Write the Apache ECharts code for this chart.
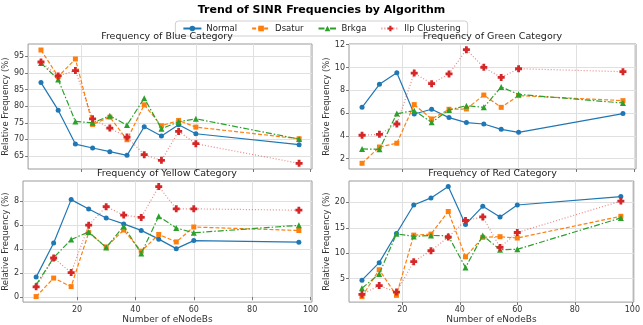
<!DOCTYPE html>
<html>
<head>
<meta charset="utf-8">
<script src="https://cdn.jsdelivr.net/npm/echarts@6/dist/echarts.min.js"></script>
<style>
  html, body { margin: 0; padding: 0; background: #fff; }
  #chart { width: 643px; height: 325px; }
</style>
</head>
<body>
<div id="chart"></div>
<script>
var eNodeBs = [6, 12, 18, 24, 30, 36, 42, 48, 54, 60, 96];
var algorithms = ['Normal', 'Dsatur', 'Brkga', 'Ilp Clustering'];

// Blue
var blueNormal = [87.1, 78.8, 68.6, 67.4, 66.3, 65.2, 73.8, 71.0, 74.4, 71.7, 68.4];
var blueDsatur = [96.9, 88.9, 94.2, 74.5, 76.7, 69.9, 80.4, 74.1, 75.7, 73.7, 70.2];
var blueBrkga = [93.0, 88.0, 75.4, 75.0, 77.1, 74.3, 82.4, 73.2, 75.3, 76.2, 70.1];
var blueIlp = [93.3, 89.1, 90.7, 76.2, 73.4, 70.7, 65.4, 63.7, 72.4, 68.7, 62.8];
// Green
var greenNormal = [6.5, 8.52, 9.54, 5.92, 6.33, 5.6, 5.16, 5.04, 4.57, 4.31, 5.95];
var greenDsatur = [1.59, 3.02, 3.35, 6.74, 5.48, 6.33, 6.36, 7.58, 6.5, 7.53, 7.09];
var greenBrkga = [2.85, 2.82, 5.95, 6.21, 5.19, 6.27, 6.65, 6.5, 8.29, 7.64, 6.88];
var greenIlp = [4.05, 4.13, 5.04, 9.51, 8.58, 9.43, 11.56, 10.01, 9.13, 9.89, 9.63];
// Yellow
var yellowNormal = [1.65, 4.49, 8.1, 7.32, 6.57, 6.08, 5.54, 4.81, 4.02, 4.69, 4.56];
var yellowDsatur = [0.03, 1.57, 0.86, 5.35, 4.16, 5.57, 3.81, 5.2, 4.58, 5.82, 5.53];
var yellowBrkga = [1.0, 3.27, 4.78, 5.41, 4.11, 5.89, 3.62, 6.71, 5.74, 5.34, 5.96];
var yellowIlp = [0.84, 3.24, 2.03, 5.97, 7.51, 6.81, 6.62, 9.19, 7.33, 7.33, 7.22];
// Red
var redNormal = [4.68, 8.13, 13.87, 19.49, 20.89, 23.13, 15.66, 19.23, 17.13, 19.49, 21.15];
var redDsatur = [1.43, 6.73, 1.68, 13.55, 13.75, 18.21, 9.28, 13.11, 13.24, 12.98, 17.26];
var redBrkga = [3.09, 5.9, 13.81, 13.3, 13.49, 13.43, 7.17, 13.49, 10.68, 10.75, 16.94];
var redIlp = [1.88, 3.6, 2.32, 8.32, 10.49, 13.17, 16.43, 17.13, 11.13, 14.07, 20.26];

var xTicks = [20, 40, 60, 80, 100];
var blueTicks = [65, 70, 75, 80, 85, 90, 95];
var greenTicks = [2, 4, 6, 8, 10, 12];
var yellowTicks = [0, 2, 4, 6, 8];
var redTicks = [5, 10, 15, 20];

var panels = [
    {title: 'Frequency of Blue Category', data: [blueNormal, blueDsatur, blueBrkga, blueIlp], ticks: blueTicks, min: 61.09, max: 98.71,
     grid: {left: 22, width: 290, top: 44, height: 125}, bottom: false},
    {title: 'Frequency of Green Category', data: [greenNormal, greenDsatur, greenBrkga, greenIlp], ticks: greenTicks, min: 1.09, max: 12.06,
     grid: {left: 349, width: 287, top: 44, height: 125}, bottom: false},
    {title: 'Frequency of Yellow Category', data: [yellowNormal, yellowDsatur, yellowBrkga, yellowIlp], ticks: yellowTicks, min: -0.43, max: 9.65,
     grid: {left: 22, width: 290, top: 181, height: 127}, bottom: true},
    {title: 'Frequency of Red Category', data: [redNormal, redDsatur, redBrkga, redIlp], ticks: redTicks, min: 0.35, max: 24.22,
     grid: {left: 349, width: 287, top: 181, height: 127}, bottom: true}
];

var colors = ['#1f77b4', '#ff7f0e', '#2ca02c', '#d62728'];
var symbols = ['circle', 'rect', 'triangle', 'path://M3,0H7V3H10V7H7V10H3V7H0V3H3Z'];
var symbolSizes = [5, 5, 6, 7];
var dashes = ['solid', [4, 2], [6, 2, 1.5, 2], [1, 2]];
var lineOpacity = [1, 1, 1, 0.55];

var font = 'DejaVu Sans';
var grids = [], xAxes = [], yAxes = [], series = [];
var titles = [{
    text: 'Trend of SINR Frequencies by Algorithm',
    left: 'center', top: 5, padding: 0,
    textStyle: {fontFamily: font, fontSize: 11, fontWeight: 'bold', color: '#000'}
}];

panels.forEach(function (p, i) {
    grids.push({left: p.grid.left, width: p.grid.width, top: p.grid.top, height: p.grid.height,
        show: true, borderColor: '#9a9a9a', borderWidth: 1});
    titles.push({
        text: p.title, left: p.grid.left + p.grid.width / 2, textAlign: 'center',
        top: p.grid.top - 12, padding: 0,
        textStyle: {fontFamily: font, fontSize: 9.5, fontWeight: 'normal', color: '#222'}
    });
    xAxes.push({
        type: 'value', gridIndex: i, min: 1.5, max: 100.5,
        name: p.bottom ? 'Number of eNodeBs' : '', nameLocation: 'middle', nameGap: 12,
        nameTextStyle: {fontFamily: font, fontSize: 9, color: '#333'},
        axisLine: {show: false},
        axisTick: {show: true, length: 3, customValues: xTicks, lineStyle: {color: '#777'}},
        axisLabel: {show: p.bottom, customValues: xTicks, margin: 4, fontFamily: font, fontSize: 8, color: '#333'},
        splitLine: {show: true, lineStyle: {color: '#e0e0e0', width: 1}}
    });
    yAxes.push({
        type: 'value', gridIndex: i, min: p.min, max: p.max,
        name: 'Relative Frequency (%)', nameLocation: 'middle', nameGap: 13,
        nameTextStyle: {fontFamily: font, fontSize: 8.5, color: '#333'},
        axisLine: {show: false},
        axisTick: {show: true, length: 3, customValues: p.ticks, lineStyle: {color: '#777'}},
        axisLabel: {customValues: p.ticks, margin: 4, fontFamily: font, fontSize: 8, color: '#333'},
        splitLine: {show: true, lineStyle: {color: '#e0e0e0', width: 1}}
    });
    algorithms.forEach(function (name, k) {
        series.push({
            name: name, type: 'line', xAxisIndex: i, yAxisIndex: i,
            data: eNodeBs.map(function (x, j) { return [x, p.data[k][j]]; }),
            symbol: symbols[k], symbolSize: symbolSizes[k], showAllSymbol: true,
            itemStyle: {color: colors[k]},
            lineStyle: {color: colors[k], width: 1.2, type: dashes[k], opacity: lineOpacity[k]},
            emphasis: {disabled: true},
            animation: false, z: 2 + k
        });
    });
});

var chart = echarts.init(document.getElementById('chart'));
chart.setOption({
    animation: false,
    color: colors,
    title: titles,
    legend: {
        data: algorithms, top: 21, left: 'center',
        itemWidth: 18, itemHeight: 7, itemGap: 14,
        padding: [3, 7], borderColor: '#d0d0d0', borderWidth: 1, borderRadius: 3,
        textStyle: {fontFamily: font, fontSize: 8.5, color: '#222'}
    },
    grid: grids,
    xAxis: xAxes,
    yAxis: yAxes,
    series: series
});
</script>
</body>
</html>
